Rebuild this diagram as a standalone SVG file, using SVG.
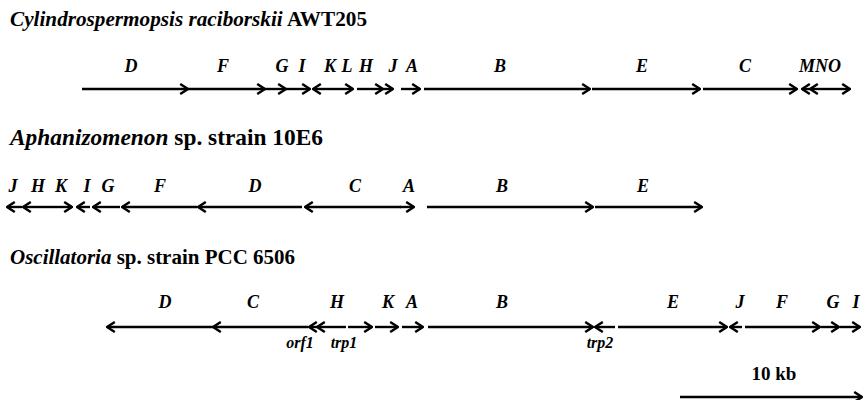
<svg xmlns="http://www.w3.org/2000/svg" width="863" height="400" viewBox="0 0 863 400">
<style>
.t{font-family:"Liberation Serif","Times New Roman",serif;font-weight:bold;fill:#000}
.i{font-style:italic}
.lab{font-family:"Liberation Serif","Times New Roman",serif;font-weight:bold;font-style:italic;font-size:18px;text-anchor:middle;fill:#000}
.sub{font-family:"Liberation Serif","Times New Roman",serif;font-weight:bold;font-style:italic;font-size:16px;text-anchor:middle;fill:#000}
.g{stroke:#000;stroke-width:2.4;fill:none;marker-end:url(#ah)}
</style>
<defs>
<marker id="ah" viewBox="0 0 10 12" refX="9" refY="6" markerWidth="10" markerHeight="12" markerUnits="userSpaceOnUse" orient="auto">
<path d="M1.2,1 L9,6 L1.2,11" fill="none" stroke="#000" stroke-width="2.5"/>
</marker>
</defs>
<rect width="863" height="400" fill="#fff"/>

<text class="t" x="10" y="26" font-size="21" textLength="357" lengthAdjust="spacingAndGlyphs"><tspan class="i">Cylindrospermopsis raciborskii</tspan> AWT205</text>
<g id="track1">
<g id="c-D"><text class="lab" x="131" y="72">D</text><line class="g" x1="82" y1="89" x2="188" y2="89"/></g>
<g id="c-F"><text class="lab" x="223" y="72">F</text><line class="g" x1="188" y1="89" x2="265" y2="89"/></g>
<g id="c-G"><text class="lab" x="282" y="72">G</text><line class="g" x1="265" y1="89" x2="286" y2="89"/></g>
<g id="c-I"><text class="lab" x="302" y="72">I</text><line class="g" x1="286" y1="89" x2="310" y2="89"/></g>
<g id="c-K"><text class="lab" x="330" y="72">K</text><line class="g" x1="333" y1="89" x2="313" y2="89"/></g>
<g id="c-L"><text class="lab" x="347" y="72">L</text><line class="g" x1="333" y1="89" x2="353" y2="89"/></g>
<g id="c-H"><text class="lab" x="366" y="72">H</text><line class="g" x1="357" y1="89" x2="383" y2="89"/></g>
<g id="c-J"><text class="lab" x="393" y="72">J</text><line class="g" x1="383" y1="89" x2="393" y2="89"/></g>
<g id="c-A"><text class="lab" x="412" y="72">A</text><line class="g" x1="401" y1="89" x2="420" y2="89"/></g>
<g id="c-B"><text class="lab" x="500" y="72">B</text><line class="g" x1="424" y1="89" x2="590" y2="89"/></g>
<g id="c-E"><text class="lab" x="642" y="72">E</text><line class="g" x1="592" y1="89" x2="700" y2="89"/></g>
<g id="c-C"><text class="lab" x="745" y="72">C</text><line class="g" x1="703" y1="89" x2="797" y2="89"/></g>
<g id="c-MNO"><text class="lab" x="820" y="72">MNO</text>
<line class="g" x1="810" y1="89" x2="802" y2="89"/>
<line class="g" x1="822" y1="89" x2="810" y2="89"/>
<line class="g" x1="822" y1="89" x2="850" y2="89"/></g>
</g>

<text class="t" x="10" y="145" font-size="23" textLength="313" lengthAdjust="spacingAndGlyphs"><tspan class="i">Aphanizomenon</tspan> sp. strain 10E6</text>
<g id="track2">
<g id="a-J"><text class="lab" x="13" y="192">J</text><line class="g" x1="22" y1="207" x2="7" y2="207"/></g>
<g id="a-H"><text class="lab" x="38" y="192">H</text><line class="g" x1="46" y1="207" x2="23" y2="207"/></g>
<g id="a-K"><text class="lab" x="61" y="192">K</text><line class="g" x1="46" y1="207" x2="72" y2="207"/></g>
<g id="a-I"><text class="lab" x="87" y="192">I</text><line class="g" x1="90" y1="207" x2="77" y2="207"/></g>
<g id="a-G"><text class="lab" x="108" y="192">G</text><line class="g" x1="120" y1="207" x2="93" y2="207"/></g>
<g id="a-F"><text class="lab" x="160" y="192">F</text><line class="g" x1="197" y1="207" x2="122" y2="207"/></g>
<g id="a-D"><text class="lab" x="255" y="192">D</text><line class="g" x1="302" y1="207" x2="198" y2="207"/></g>
<g id="a-C"><text class="lab" x="355" y="192">C</text><line class="g" x1="401" y1="207" x2="305" y2="207"/></g>
<g id="a-A"><text class="lab" x="409" y="192">A</text><line class="g" x1="400" y1="207" x2="414" y2="207"/></g>
<g id="a-B"><text class="lab" x="502" y="192">B</text><line class="g" x1="427" y1="207" x2="593" y2="207"/></g>
<g id="a-E"><text class="lab" x="643" y="192">E</text><line class="g" x1="595" y1="207" x2="702" y2="207"/></g>
</g>

<text class="t" x="10" y="264" font-size="21" textLength="285" lengthAdjust="spacingAndGlyphs"><tspan class="i">Oscillatoria</tspan> sp. strain PCC 6506</text>
<g id="track3">
<g id="o-D"><text class="lab" x="165" y="308">D</text><line class="g" x1="213" y1="327" x2="107" y2="327"/></g>
<g id="o-C"><text class="lab" x="253" y="308">C</text><line class="g" x1="308" y1="327" x2="213" y2="327"/></g>
<g id="o-orf1"><text class="sub" x="300" y="348">orf1</text><line class="g" x1="317" y1="327" x2="309" y2="327"/></g>
<g id="o-H"><text class="lab" x="337" y="308">H</text><line class="g" x1="346" y1="327" x2="317" y2="327"/></g>
<g id="o-trp1"><text class="sub" x="344" y="348">trp1</text><line class="g" x1="348" y1="327" x2="372" y2="327"/></g>
<g id="o-K"><text class="lab" x="388" y="308">K</text><line class="g" x1="375" y1="327" x2="398" y2="327"/></g>
<g id="o-A"><text class="lab" x="412" y="308">A</text><line class="g" x1="402" y1="327" x2="423" y2="327"/></g>
<g id="o-B"><text class="lab" x="502" y="308">B</text><line class="g" x1="428" y1="327" x2="593" y2="327"/></g>
<g id="o-trp2"><text class="sub" x="600" y="348">trp2</text><line class="g" x1="615" y1="327" x2="595" y2="327"/></g>
<g id="o-E"><text class="lab" x="673" y="308">E</text><line class="g" x1="618" y1="327" x2="727" y2="327"/></g>
<g id="o-J"><text class="lab" x="740" y="308">J</text><line class="g" x1="742" y1="327" x2="730" y2="327"/></g>
<g id="o-F"><text class="lab" x="782" y="308">F</text><line class="g" x1="745" y1="327" x2="820" y2="327"/></g>
<g id="o-G"><text class="lab" x="833" y="308">G</text><line class="g" x1="821" y1="327" x2="839" y2="327"/></g>
<g id="o-I"><text class="lab" x="856" y="308">I</text><line class="g" x1="840" y1="327" x2="860" y2="327"/></g>
</g>

<g id="scale">
<text class="t" x="774" y="380" font-size="19" text-anchor="middle">10 kb</text>
<line class="g" x1="680" y1="397" x2="862" y2="397"/>
</g>
</svg>
